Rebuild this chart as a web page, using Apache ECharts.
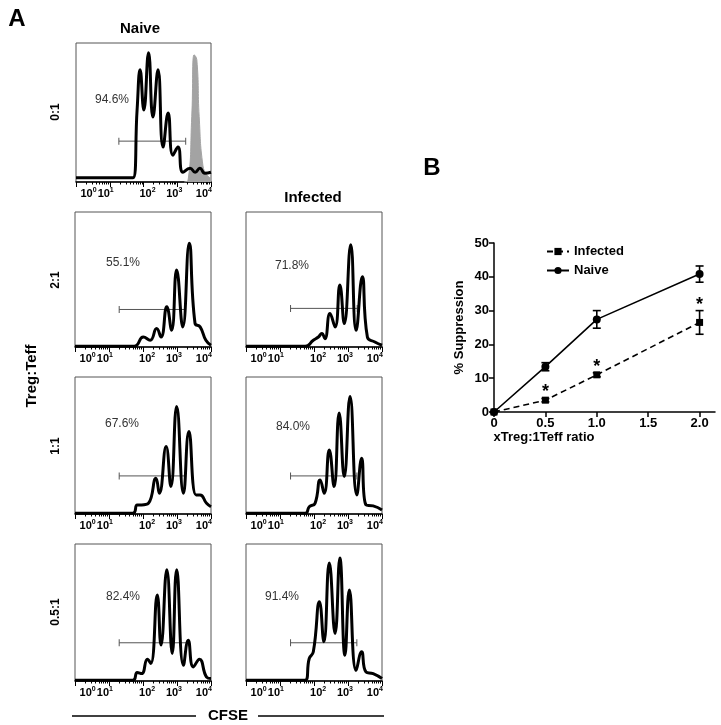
<!DOCTYPE html>
<html>
<head>
<meta charset="utf-8">
<script src="https://cdn.jsdelivr.net/npm/echarts@6/dist/echarts.min.js"></script>
<style>
  html, body { margin: 0; padding: 0; background: #fff; }
  #chart { width: 721px; height: 725px; }
</style>
</head>
<body>
<div id="chart"></div>
<script>
// Panel A: CFSE histograms. x = log10 channel (0-4), y = % of plot height
var naive01 = [[0,3],[1.69,3],[1.81,51.8],[1.90,80.7],[2.01,51.8],[2.15,93.0],[2.28,46.7],[2.43,80.7],[2.58,25.1],[2.73,49.6],[2.87,19.3],[3.02,25.1],[3.17,7.0],[3.38,9.9],[3.53,7.0],[3.67,9.9],[3.82,6.3],[4.0,7.0]];
var naive01Ctrl = [[3.2,0],[3.32,1.2],[3.43,47],[3.50,91.5],[3.58,88],[3.65,47],[3.76,12],[3.88,5],[4.0,2.7]];
var naive21 = [[0,0.5],[1.74,0.5],[2.01,7.4],[2.21,5.0],[2.40,13.7],[2.53,7.4],[2.70,29.8],[2.84,12.4],[2.99,57.1],[3.17,14.9],[3.36,76.9],[3.53,17.6],[3.68,14.9],[3.85,5],[4.0,1.3]];
var infected21 = [[0,0.5],[1.74,0.5],[1.98,5.0],[2.13,7.4],[2.23,10.0],[2.32,6.2],[2.47,24.8],[2.62,14.9],[2.76,45.9],[2.89,17.4],[3.08,75.7],[3.24,12.4],[3.42,52.1],[3.57,7.4],[3.79,3.7],[4.0,1.3]];
var naive11 = [[0,0.5],[1.70,0.5],[1.83,6.6],[1.96,6.6],[2.16,7.8],[2.38,26.1],[2.48,15.1],[2.68,49.2],[2.82,20.0],[2.99,78.5],[3.19,15.1],[3.35,60.2],[3.56,13.9],[3.68,13.9],[3.87,7.8],[4.0,5.3]];
var infected11 = [[0,0.5],[1.74,0.5],[1.86,5.3],[2.03,7.8],[2.18,24.9],[2.30,15.1],[2.45,46.8],[2.59,20.0],[2.74,73.7],[2.89,27.3],[3.06,85.8],[3.26,13.9],[3.40,40.7],[3.53,6.6],[3.74,5.9],[4.0,2.9]];
var naive051 = [[0,0.5],[1.70,0.5],[1.83,6.2],[1.96,5.4],[2.13,15.9],[2.23,12.8],[2.42,62.8],[2.53,26.2],[2.70,81.2],[2.86,20.1],[2.99,81.2],[3.19,11.5],[3.33,29.8],[3.48,10.3],[3.66,15.9],[3.87,2.9],[4.0,1.8]];
var infected051 = [[0,0.5],[1.74,0.5],[1.86,16.4],[1.98,21.3],[2.16,57.9],[2.29,28.6],[2.45,86.1],[2.62,34.7],[2.76,89.7],[2.91,18.8],[3.04,66.5],[3.24,7.8],[3.40,21.3],[3.53,6.6],[3.74,5.4],[4.0,1.8]];

// gates: [start, end, height]
var gates = [[1.27,3.25,29.4],[1.30,3.24,27.8],[1.31,3.27,28.6],[1.30,3.24,27.8],[1.31,3.26,27.8],[1.30,3.33,27.9],[1.31,3.26,27.9]];
var pctLabels = ['94.6%','55.1%','71.8%','67.6%','84.0%','82.4%','91.4%'];
var cfseLabelPos = [0.37, 0.88, 2.12, 2.91, 3.79];
var cfseLabelExp = ['0', '1', '2', '3', '4'];

// Panel B: suppression
var ratios = [0, 0.5, 1.0, 2.0];
var naiveMean = [0, 13.4, 27.4, 40.8];
var naiveSem = [0, 1.2, 2.6, 2.4];
var infectedMean = [0, 3.5, 11.0, 26.5];
var infectedSem = [0, 0.5, 0.6, 3.5];
var infectedSig = [false, true, true, true];
var ratioTicks = [0, 0.5, 1.0, 1.5, 2.0];

var FONT = '"Liberation Sans", Arial, sans-serif';

var panels = [
  { data: naive01, ctrl: naive01Ctrl, box: { left: 76, top: 43, width: 135, height: 139 }, pct: [112, 100] },
  { data: naive21, box: { left: 75, top: 212, width: 136, height: 135 }, pct: [123, 263] },
  { data: infected21, box: { left: 246, top: 212, width: 136, height: 135 }, pct: [292, 266] },
  { data: naive11, box: { left: 75, top: 377, width: 136, height: 137 }, pct: [122, 424] },
  { data: infected11, box: { left: 246, top: 377, width: 136, height: 137 }, pct: [293, 427] },
  { data: naive051, box: { left: 75, top: 544, width: 136, height: 137 }, pct: [123, 597] },
  { data: infected051, box: { left: 246, top: 544, width: 136, height: 137 }, pct: [282, 597] }
];

var minorTicks = [];
for (var d = 0; d < 4; d++) {
  for (var k = 2; k < 10; k++) minorTicks.push(d + Math.log10(k));
}

var cfseRich = {
  b: { fontSize: 11, fontWeight: 'bold', fontFamily: FONT, color: '#000' },
  s: { fontSize: 7, fontWeight: 'bold', fontFamily: FONT, color: '#000', verticalAlign: 'top', padding: [0, 0, 6, 0] }
};

function cfseLabel(v) {
  var idx = 0;
  cfseLabelPos.forEach(function(c, j) { if (Math.abs(c - v) < 0.01) idx = j; });
  return '{b|10}{s|' + cfseLabelExp[idx] + '}';
}

var grid = [], xAxis = [], yAxis = [], series = [];
var graphic = [];

panels.forEach(function(p, i) {
  grid.push({ left: p.box.left, top: p.box.top, width: p.box.width, height: p.box.height,
    show: true, borderColor: '#555', borderWidth: 1 });
  // decade ticks + labels 10^1..10^4
  xAxis.push({
    type: 'value', gridIndex: i, min: 0, max: 4, position: 'bottom',
    axisLine: { show: true, lineStyle: { color: '#000', width: 1.5 } },
    axisTick: { show: true, customValues: [0, 1, 2, 3, 4], length: 5, lineStyle: { color: '#000' } },
    axisLabel: { show: true, customValues: cfseLabelPos.slice(1), margin: 5, color: '#000',
      showMinLabel: true, showMaxLabel: true, formatter: cfseLabel, rich: cfseRich },
    splitLine: { show: false }
  });
  // minor ticks + the 10^0 label (kept on its own axis so it is not dropped as overlapping)
  xAxis.push({
    type: 'value', gridIndex: i, min: 0, max: 4, position: 'bottom',
    axisLine: { show: false },
    axisTick: { show: true, customValues: minorTicks, length: 2.5, lineStyle: { color: '#000' } },
    axisLabel: { show: true, customValues: cfseLabelPos.slice(0, 1), margin: 5, color: '#000',
      showMinLabel: true, showMaxLabel: true, formatter: cfseLabel, rich: cfseRich },
    splitLine: { show: false }
  });
  yAxis.push({ type: 'value', gridIndex: i, min: 0, max: 100, show: false, splitLine: { show: false } });

  if (p.ctrl) {
    series.push({
      type: 'line', xAxisIndex: 2 * i, yAxisIndex: i, data: p.ctrl, smooth: 0.5,
      symbol: 'none', lineStyle: { color: '#a3a3a3', width: 1 }, areaStyle: { color: '#a3a3a3', opacity: 1 },
      silent: true, z: 1
    });
  }
  series.push({
    type: 'line', xAxisIndex: 2 * i, yAxisIndex: i, data: p.data, smooth: 0.5,
    symbol: 'none', lineStyle: { color: '#000', width: 3, join: 'round' }, silent: true, z: 3
  });
  var g = gates[i];
  series.push({
    type: 'line', xAxisIndex: 2 * i, yAxisIndex: i, data: [[g[0], g[2]], [g[1], g[2]]],
    symbol: 'rect', symbolSize: [1, 7], itemStyle: { color: '#555' },
    lineStyle: { color: '#555', width: 1 }, silent: true, z: 2
  });
  graphic.push({ type: 'text', x: p.pct[0], y: p.pct[1],
    style: { text: pctLabels[i], font: '12px ' + FONT, fill: '#333', textAlign: 'center', textVerticalAlign: 'middle', align: 'center', verticalAlign: 'middle' } });
});

// panel B
var gB = grid.length;
grid.push({ left: 494, top: 243, width: 221, height: 169 });
xAxis.push({
  type: 'value', gridIndex: gB, min: 0, max: 2.15,
  axisLine: { lineStyle: { color: '#000', width: 1.5 } },
  axisTick: { customValues: ratioTicks, length: 5, lineStyle: { color: '#000', width: 1.5 } },
  axisLabel: { customValues: ratioTicks, color: '#000', fontWeight: 'bold', fontSize: 13, fontFamily: FONT, margin: 5,
    formatter: function(v) { return v === 0 ? '0' : v.toFixed(1); } },
  splitLine: { show: false }
});
yAxis.push({
  type: 'value', gridIndex: gB, min: 0, max: 50, interval: 10,
  name: '% Suppression', nameLocation: 'middle', nameGap: 28,
  nameTextStyle: { color: '#000', fontWeight: 'bold', fontSize: 13, fontFamily: FONT },
  axisLine: { show: true, lineStyle: { color: '#000', width: 1.5 } },
  axisTick: { show: true, length: 5, lineStyle: { color: '#000', width: 1.5 } },
  axisLabel: { color: '#000', fontWeight: 'bold', fontSize: 13, fontFamily: FONT, margin: 5 },
  splitLine: { show: false }
});

function pairs(xs, ys) { return xs.map(function(x, i) { return [x, ys[i]]; }); }

function errorBars(mean, sem, sig) {
  return ratios.map(function(x, i) { return [x, mean[i] - sem[i], mean[i] + sem[i], sig && sig[i] ? 1 : 0]; });
}

function renderErr(params, api) {
  var x = api.value(0);
  var lo = api.coord([x, api.value(1)]);
  var hi = api.coord([x, api.value(2)]);
  var w = 4;
  var st = { stroke: '#000', lineWidth: 1.6 };
  var children = [
    { type: 'line', shape: { x1: lo[0], y1: lo[1], x2: hi[0], y2: hi[1] }, style: st },
    { type: 'line', shape: { x1: lo[0] - w, y1: lo[1], x2: lo[0] + w, y2: lo[1] }, style: st },
    { type: 'line', shape: { x1: hi[0] - w, y1: hi[1], x2: hi[0] + w, y2: hi[1] }, style: st }
  ];
  if (api.value(3)) {
    children.push({ type: 'text', x: hi[0], y: hi[1] + 3,
      style: { text: '*', font: 'bold 18px ' + FONT, fill: '#000', align: 'center', verticalAlign: 'bottom', textAlign: 'center', textVerticalAlign: 'bottom' } });
  }
  return { type: 'group', children: children };
}

series.push({
  name: 'Infected', type: 'line', xAxisIndex: 2 * panels.length, yAxisIndex: gB,
  data: pairs(ratios, infectedMean), symbol: 'rect', symbolSize: 7,
  itemStyle: { color: '#000' }, lineStyle: { color: '#000', width: 1.6, type: [6, 4] }, z: 5
});
series.push({
  name: 'Naive', type: 'line', xAxisIndex: 2 * panels.length, yAxisIndex: gB,
  data: pairs(ratios, naiveMean), symbol: 'circle', symbolSize: 8,
  itemStyle: { color: '#000' }, lineStyle: { color: '#000', width: 1.6 }, z: 5
});
series.push({
  type: 'custom', xAxisIndex: 2 * panels.length, yAxisIndex: gB,
  data: errorBars(infectedMean, infectedSem, infectedSig), renderItem: renderErr, z: 6, silent: true
});
series.push({
  type: 'custom', xAxisIndex: 2 * panels.length, yAxisIndex: gB,
  data: errorBars(naiveMean, naiveSem, null), renderItem: renderErr, z: 6, silent: true
});

function txt(t, x, y, font, rot) {
  return { type: 'text', x: x, y: y, rotation: rot || 0,
    style: { text: t, font: font, fill: '#000', textAlign: 'center', textVerticalAlign: 'middle', align: 'center', verticalAlign: 'middle' } };
}

graphic.push(txt('A', 17, 19, 'bold 24px ' + FONT));
graphic.push(txt('B', 432, 168, 'bold 24px ' + FONT));
graphic.push(txt('Naive', 140, 29, 'bold 15px ' + FONT));
graphic.push(txt('Infected', 313, 198, 'bold 15px ' + FONT));
graphic.push(txt('0:1', 56, 112, 'bold 12px ' + FONT, Math.PI / 2));
graphic.push(txt('2:1', 56, 280, 'bold 12px ' + FONT, Math.PI / 2));
graphic.push(txt('1:1', 56, 446, 'bold 12px ' + FONT, Math.PI / 2));
graphic.push(txt('0.5:1', 56, 612, 'bold 12px ' + FONT, Math.PI / 2));
graphic.push(txt('Treg:Teff', 32, 376, 'bold 15px ' + FONT, Math.PI / 2));
graphic.push(txt('CFSE', 228, 716, 'bold 15px ' + FONT));
graphic.push(txt('xTreg:1Teff ratio', 544, 437, 'bold 13px ' + FONT));
graphic.push({ type: 'line', shape: { x1: 72, y1: 716, x2: 196, y2: 716 }, style: { stroke: '#000', lineWidth: 1.5 } });
graphic.push({ type: 'line', shape: { x1: 258, y1: 716, x2: 384, y2: 716 }, style: { stroke: '#000', lineWidth: 1.5 } });

var chart = echarts.init(document.getElementById('chart'), null, { renderer: 'canvas' });
chart.setOption({
  animation: false,
  backgroundColor: '#fff',
  legend: {
    data: ['Infected', 'Naive'], orient: 'vertical', left: 541, top: 240,
    itemWidth: 22, itemHeight: 9, itemGap: 6,
    textStyle: { color: '#000', fontWeight: 'bold', fontSize: 13, fontFamily: FONT }
  },
  grid: grid,
  xAxis: xAxis,
  yAxis: yAxis,
  series: series,
  graphic: graphic
});
</script>
</body>
</html>
